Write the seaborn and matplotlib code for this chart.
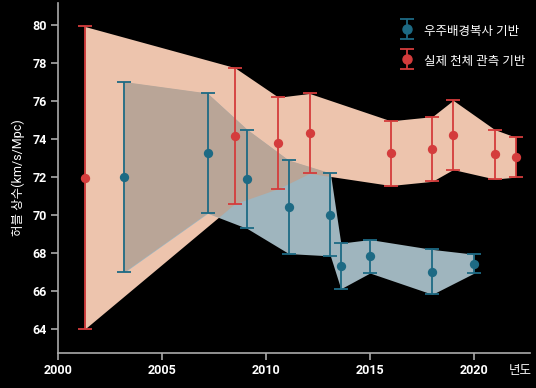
import numpy as np
import matplotlib
matplotlib.use("Agg")
import matplotlib.pyplot as plt
import seaborn as sns
from matplotlib.container import ErrorbarContainer
from matplotlib.legend_handler import HandlerErrorbar

years_cmb = [2003.2, 2007.2, 2009.1, 2011.1, 2013.1, 2013.6, 2015.0, 2018.0, 2020.0]
h0_cmb = [72.0, 73.25, 71.9, 70.43, 70.03, 67.33, 67.84, 67.02, 67.45]
err_cmb = [5.0, 3.15, 2.6, 2.45, 2.17, 1.2, 0.88, 1.18, 0.5]

years_obs = [2001.3, 2008.5, 2010.6, 2012.1, 2016.0, 2018.0, 2019.0, 2021.0, 2022.0]
h0_obs = [71.97, 74.18, 73.8, 74.3, 73.26, 73.48, 74.22, 73.2, 73.05]
err_obs = [7.95, 3.58, 2.4, 2.1, 1.7, 1.7, 1.82, 1.3, 1.05]

label_cmb = "우주배경복사 기반"
label_obs = "실제 천체 관측 기반"
x_ticks = [2000, 2005, 2010, 2015, 2020]
y_ticks = [64, 66, 68, 70, 72, 74, 76, 78, 80]

sns.set_theme(style="dark", rc={
    "figure.facecolor": "black",
    "axes.facecolor": "black",
    "axes.edgecolor": "#aaaaaa",
    "axes.grid": False,
    "xtick.color": "#aaaaaa",
    "ytick.color": "#aaaaaa",
    "xtick.bottom": True,
    "ytick.left": True,
})
plt.rcParams["font.family"] = ["Roboto", "Noto Sans CJK KR", "DejaVu Sans"]

blue = "#1d6a84"
red = "#d43c3c"
blue_fill = "#9fb5be"
red_fill = "#edc4ad"
overlap_fill = "#b9a597"

fig = plt.figure(figsize=(5.36, 3.88), dpi=100)
ax = fig.add_axes([0.108, 0.090, 0.881, 0.902])

cmb = np.array(h0_cmb)
obs = np.array(h0_obs)
ecmb = np.array(err_cmb)
eobs = np.array(err_obs)

# bands spanning the error bars
ax.fill_between(years_obs, obs - eobs, obs + eobs, color=red_fill, lw=0, zorder=1)
band_cmb = ax.fill_between(years_cmb, cmb - ecmb, cmb + ecmb, color=blue_fill, lw=0, zorder=1.1)
# where both bands overlap, paint a muted brown
ov = ax.fill_between(years_obs, obs - eobs, obs + eobs, color=overlap_fill, lw=0, zorder=1.2)
ov.set_clip_path(band_cmb.get_paths()[0], ax.transData)

ax.errorbar(years_cmb, h0_cmb, yerr=err_cmb, fmt="none", ecolor=blue,
            elinewidth=1.3, capsize=5, capthick=1.3, zorder=3)
ax.errorbar(years_obs, h0_obs, yerr=err_obs, fmt="none", ecolor=red,
            elinewidth=1.3, capsize=5, capthick=1.3, zorder=3)

sns.scatterplot(x=years_cmb, y=h0_cmb, color=blue, s=45, linewidth=0, zorder=4, ax=ax)
sns.scatterplot(x=years_obs, y=h0_obs, color=red, s=45, linewidth=0, zorder=4, ax=ax)

# legend entries: marker sitting on an error bar
proxy = []
for c in [blue, red]:
    cont = ax.errorbar([np.nan], [np.nan], yerr=[1], fmt="o", color=c, ms=6.5,
                       elinewidth=1.3, capsize=5, capthick=1.3)
    proxy.append(cont)
ax.legend(proxy, [label_cmb, label_obs], loc="upper right",
          bbox_to_anchor=(1.013, 0.975), frameon=False, labelcolor="white",
          prop={"size": 9, "weight": "medium"}, handlelength=1.0, handleheight=1.45,
          labelspacing=1.2, handletextpad=0.85,
          handler_map={ErrorbarContainer: HandlerErrorbar(yerr_size=0.8)})

ax.set_xlim(2000, 2022.7)
ax.set_ylim(62.75, 81.15)
ax.set_xticks(x_ticks)
ax.set_yticks(y_ticks)
ax.tick_params(axis="both", length=5, width=1.2, labelcolor="white", labelsize=9, pad=3)
for lab in ax.get_xticklabels() + ax.get_yticklabels():
    lab.set_fontweight("bold")

sns.despine(ax=ax)
ax.spines["left"].set_linewidth(1.2)
ax.spines["bottom"].set_linewidth(1.2)

ax.set_ylabel("허블 상수(km/s/Mpc)", color="white", fontsize=9, labelpad=5)
ax.text(0.979, -0.05, "년도", transform=ax.transAxes, ha="center", va="center",
        color="white", fontsize=9)

fig.savefig("out.png", dpi=100, facecolor="black")
